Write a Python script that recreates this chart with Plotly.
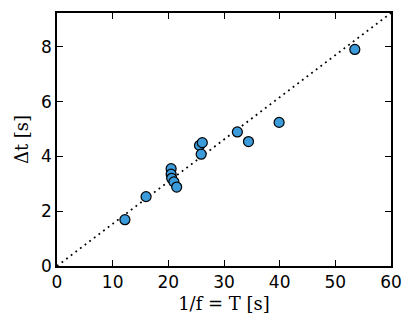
import plotly.graph_objects as go

# measured periods and delays
period_s = [12.2, 16.0, 20.5, 20.5, 20.6, 21.0, 21.5, 25.6, 26.1, 25.9, 32.4, 34.4, 39.9, 53.5]
delay_s = [1.69, 2.53, 3.55, 3.35, 3.2, 3.07, 2.88, 4.4, 4.5, 4.08, 4.89, 4.54, 5.24, 7.9]

# reference line Δt = T / 6.5
line_x = [0, 60]
line_y = [0, 60 / 6.5]

fig = go.Figure()

fig.add_trace(go.Scatter(
    x=line_x,
    y=line_y,
    mode='lines',
    line=dict(color='black', width=1.8, dash='1.8px,4px'),
    hoverinfo='skip'
))

fig.add_trace(go.Scatter(
    x=period_s,
    y=delay_s,
    mode='markers',
    marker=dict(size=10, color='#3b9bdb', line=dict(color='black', width=1.2))
))

axis_common = dict(
    showgrid=False,
    zeroline=False,
    showline=True,
    linecolor='black',
    linewidth=1.5,
    mirror='ticks',
    ticks='inside',
    ticklen=6,
    tickwidth=1,
    tickcolor='black',
    automargin=False,
    tickfont=dict(family='DejaVu Sans', size=17, color='black'),
)

# page body adds 8px offset, so figure is sized to fit
fig.update_layout(
    width=407,
    height=321,
    margin=dict(l=49, r=24, t=5, b=63),
    plot_bgcolor='white',
    paper_bgcolor='white',
    showlegend=False,
    xaxis=dict(
        range=[0, 60],
        tickvals=[0, 10, 20, 30, 40, 50, 60],
        title=dict(text='1/f = T [s]', font=dict(family='DejaVu Serif', size=18, color='black'), standoff=6),
        **axis_common
    ),
    yaxis=dict(
        range=[0, 60 / 6.5],
        tickvals=[0, 2, 4, 6, 8],
        title=dict(text='Δt [s]', font=dict(family='DejaVu Serif', size=18, color='black'), standoff=8),
        **axis_common
    ),
)

fig.write_html('out.html')
